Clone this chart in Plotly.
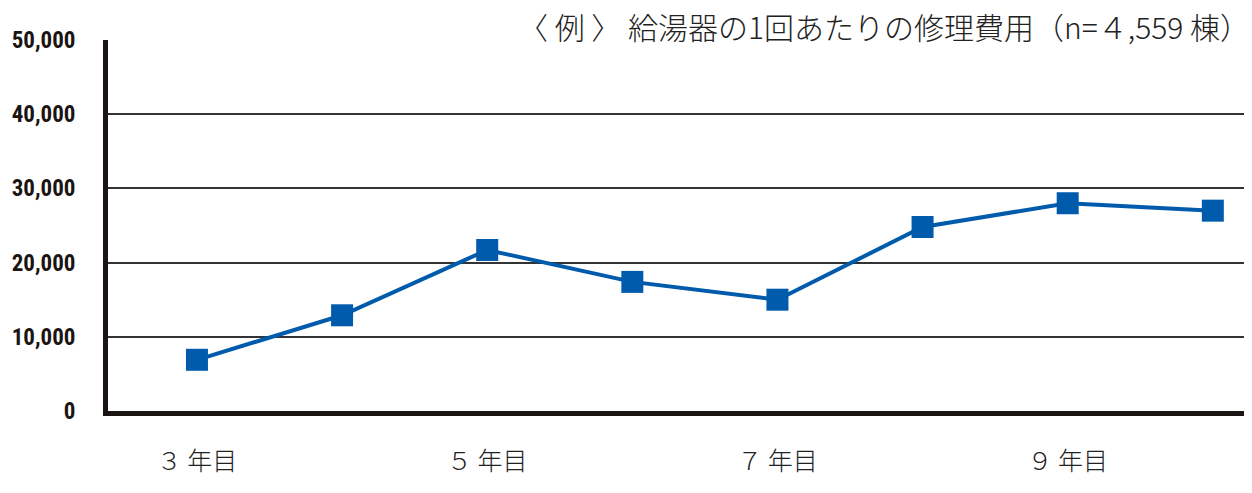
import plotly.graph_objects as go

# 給湯器の1回あたりの修理費用
years = ["3年目", "4年目", "5年目", "6年目", "7年目", "8年目", "9年目", "10年目"]
cost = [6900, 12900, 21700, 17400, 15000, 24800, 28000, 27000]
shown_ticks = ["3年目", "5年目", "7年目", "9年目"]
shown_text = ["３ 年目", "５ 年目", "７ 年目", "９ 年目"]
y_ticks = [0, 10000, 20000, 30000, 40000, 50000]
y_text = ["0", "10,000", "20,000", "30,000", "40,000", "50,000"]
title = "〈 例 〉 給湯器の1回あたりの修理費用（n=４,559 棟）"

jp_font = "Noto Sans CJK JP"

fig = go.Figure()
fig.add_trace(go.Scatter(
    x=years, y=cost, mode="lines+markers",
    line=dict(color="#005bac", width=4),
    marker=dict(symbol="square", size=22, color="#005bac"),
    showlegend=False,
))

# page body adds 8px, so the figure is 8px smaller
fig.update_layout(
    width=1244, height=485,
    margin=dict(l=100, r=0, t=32, b=82),
    plot_bgcolor="white", paper_bgcolor="white",
    annotations=[dict(
        text=title, xref="paper", yref="paper", x=1.0, y=1.0,
        xanchor="right", yanchor="bottom", yshift=-10, showarrow=False,
        font=dict(family=jp_font, size=30, color="#222", weight=300),
    )],
)
fig.update_xaxes(
    type="category", range=[-0.613, 7.27], automargin=False,
    tickvals=shown_ticks, ticktext=shown_text,
    showgrid=False, showline=True, linecolor="#1a1512", linewidth=5,
    ticks="", ticklabelstandoff=24,
    tickfont=dict(family=jp_font, size=25, color="#222", weight=300),
)
fig.update_yaxes(
    range=[0, 50000], tickvals=y_ticks, ticktext=y_text, automargin=False,
    showgrid=True, gridcolor="#333", gridwidth=1.5, zeroline=False,
    showline=True, linecolor="#1a1512", linewidth=5,
    ticks="", ticklabelstandoff=23,
    tickfont=dict(family="Roboto Condensed, Liberation Sans Narrow, Roboto",
                  size=23, color="#1a1512", weight="bold"),
)

fig.write_html("out.html")
